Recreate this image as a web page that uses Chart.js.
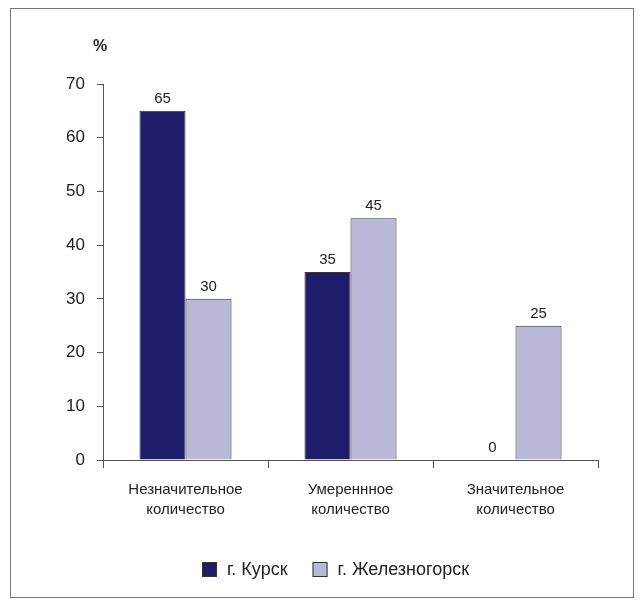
<!DOCTYPE html>
<html>
<head>
<meta charset="utf-8">
<script src="https://cdn.jsdelivr.net/npm/chart.js@4/dist/chart.umd.min.js"></script>
<style>
  body { margin: 0; background: #fff; }
  canvas { display: block; }
</style>
</head>
<body>
<canvas id="chart" width="644" height="608"></canvas>
<script>
// data
const categories = [
  ["Незначительное", "количество"],
  ["Умереннное", "количество"],
  ["Значительное", "количество"],
];
const seriesNames = ["г. Курск", "г. Железногорск"];
const kursk = [65, 35, 0];
const zheleznogorsk = [30, 45, 25];
const yMax = 70;
const yStep = 10;

const colors = ["#201c6c", "#bab8d7"];
const textColor = "#222";
const axisColor = "#555";
const fontFamily = "'Liberation Sans', Arial, sans-serif";

// frame, "%" label, value labels and legend
const extras = {
  id: "extras",
  beforeDraw(chart) {
    const ctx = chart.ctx;
    ctx.save();
    ctx.fillStyle = "#fff";
    ctx.fillRect(0, 0, chart.width, chart.height);
    ctx.strokeStyle = "#777";
    ctx.lineWidth = 1;
    ctx.strokeRect(10.5, 8.5, 623, 589);
    ctx.restore();
  },
  afterDatasetsDraw(chart) {
    const ctx = chart.ctx;
    ctx.save();
    ctx.fillStyle = textColor;
    ctx.font = "15px " + fontFamily;
    ctx.textAlign = "center";
    ctx.textBaseline = "alphabetic";
    chart.data.datasets.forEach((ds, i) => {
      const meta = chart.getDatasetMeta(i);
      meta.data.forEach((bar, j) => {
        ctx.fillText(String(ds.data[j]), bar.x, bar.y - 8);
      });
    });

    // axis unit
    ctx.font = "bold 16px " + fontFamily;
    ctx.textAlign = "center";
    ctx.textBaseline = "middle";
    ctx.fillText("%", 100, 47);

    // legend
    ctx.font = "18px " + fontFamily;
    ctx.textAlign = "left";
    let x = 202;
    const y = 569.5;
    chart.data.datasets.forEach((ds) => {
      ctx.fillStyle = ds.backgroundColor;
      ctx.fillRect(x, y - 7.5, 15, 15);
      ctx.strokeStyle = "#333";
      ctx.strokeRect(x + 0.5, y - 7, 14, 14);
      ctx.fillStyle = textColor;
      ctx.fillText(ds.label, x + 25, y + 1);
      x += 25 + ctx.measureText(ds.label).width + 25;
    });
    ctx.restore();
  },
};

new Chart(document.getElementById("chart"), {
  type: "bar",
  data: {
    labels: categories,
    datasets: [
      {
        label: seriesNames[0],
        data: kursk,
        backgroundColor: colors[0],
        borderColor: "#333",
        borderWidth: 1,
      },
      {
        label: seriesNames[1],
        data: zheleznogorsk,
        backgroundColor: colors[1],
        borderColor: "#333",
        borderWidth: 1,
      },
    ],
  },
  options: {
    responsive: false,
    animation: false,
    devicePixelRatio: 1,
    layout: { padding: { left: 0, right: 46, top: 84, bottom: 0 } },
    datasets: {
      bar: { categoryPercentage: 0.558, barPercentage: 1.0 },
    },
    plugins: {
      legend: { display: false },
      tooltip: { enabled: false },
    },
    scales: {
      x: {
        afterFit(scale) {
          scale.height = 148;
        },
        grid: {
          offset: true,
          drawOnChartArea: false,
          drawTicks: true,
          tickLength: 8,
          color: axisColor,
        },
        border: { display: true, color: axisColor, width: 1 },
        ticks: {
          color: textColor,
          font: { family: fontFamily, size: 15, lineHeight: 1.33 },
          padding: 12,
          maxRotation: 0,
        },
      },
      y: {
        min: 0,
        max: yMax,
        afterFit(scale) {
          scale.width = 103;
        },
        grid: {
          drawOnChartArea: false,
          drawTicks: true,
          tickLength: 6,
          color: axisColor,
        },
        border: { display: true, color: axisColor, width: 1 },
        ticks: {
          stepSize: yStep,
          color: textColor,
          font: { family: fontFamily, size: 17 },
          padding: 12,
        },
      },
    },
  },
  plugins: [extras],
});
</script>
</body>
</html>
